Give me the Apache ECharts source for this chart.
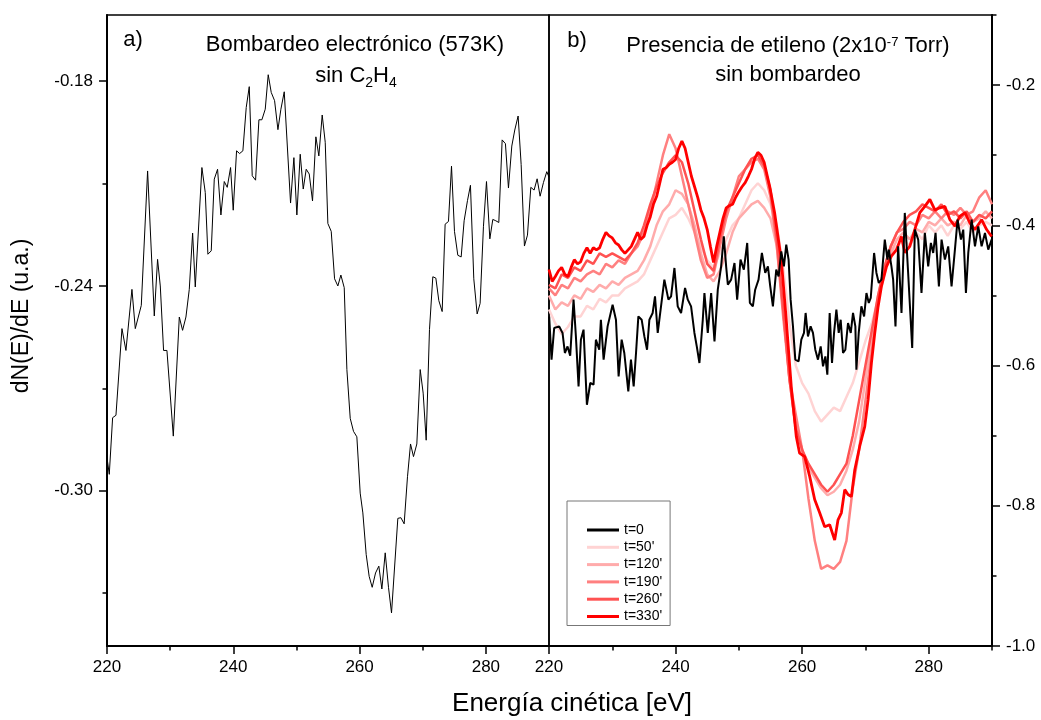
<!DOCTYPE html>
<html><head><meta charset="utf-8">
<script src="https://cdn.jsdelivr.net/npm/echarts@6/dist/echarts.min.js"></script>
<style>html,body{margin:0;padding:0;background:#fff}#c{width:1041px;height:720px}</style>
</head><body><div id="c"></div>
<script>
const F = '"Liberation Sans", Arial, sans-serif';
// tick values
const xMajor = [220, 240, 260, 280];
const xMinor = [230, 250, 270, 290];
const yLeftMajor = [-0.30, -0.24, -0.18];
const yLeftMinor = [-0.33, -0.27, -0.21];
const yRightMajor = [-1.0, -0.8, -0.6, -0.4, -0.2];
const yRightMinor = [-0.9, -0.7, -0.5, -0.3, -0.1];
const seriesNames = ["t=0", "t=50'", "t=120'", "t=190'", "t=260'", "t=330'"];

// panel a) spectrum [E, dN/dE]
const spectrumA = [[220.0,-0.2903],[220.36,-0.2952],[220.89,-0.2786],[221.42,-0.2779],[222.37,-0.2525],[223.0,-0.2589],[223.95,-0.241],[224.48,-0.2525],[225.43,-0.2457],[226.43,-0.2063],[227.49,-0.2488],[228.01,-0.2322],[228.44,-0.24],[228.96,-0.2589],[229.49,-0.2589],[230.5,-0.284],[231.45,-0.2491],[231.97,-0.253],[232.5,-0.2491],[233.03,-0.241],[233.56,-0.2245],[233.98,-0.2403],[235.03,-0.2053],[235.56,-0.2126],[235.98,-0.2307],[236.51,-0.2297],[236.99,-0.2087],[237.51,-0.2058],[238.04,-0.2192],[238.57,-0.2094],[239.04,-0.2111],[239.57,-0.2053],[239.99,-0.2178],[240.52,-0.2004],[241.0,-0.2012],[241.52,-0.2004],[242.05,-0.1877],[242.53,-0.1816],[243.0,-0.2077],[243.53,-0.209],[244.06,-0.1913],[244.53,-0.1913],[245.06,-0.1882],[245.53,-0.1781],[246.01,-0.1833],[246.54,-0.1857],[247.07,-0.1942],[247.54,-0.1882],[248.07,-0.1831],[249.07,-0.2157],[249.6,-0.2024],[250.07,-0.2192],[250.6,-0.2014],[251.08,-0.2116],[251.55,-0.2058],[252.03,-0.2072],[252.55,-0.2151],[253.08,-0.1963],[253.55,-0.2019],[254.08,-0.1899],[254.56,-0.1979],[254.98,-0.2217],[255.51,-0.224],[256.04,-0.2379],[256.56,-0.24],[257.04,-0.2368],[257.57,-0.2405],[257.99,-0.2645],[258.52,-0.2788],[259.04,-0.2826],[259.57,-0.2842],[260.1,-0.3007],[260.52,-0.3065],[261.05,-0.3187],[261.52,-0.3251],[262.0,-0.3283],[262.53,-0.3241],[263.05,-0.3221],[263.53,-0.3288],[264.06,-0.3182],[264.58,-0.3283],[265.06,-0.3358],[266.06,-0.3081],[266.54,-0.3079],[267.06,-0.3097],[267.59,-0.2959],[268.07,-0.2863],[268.54,-0.29],[269.07,-0.2863],[269.6,-0.2645],[270.07,-0.2714],[270.55,-0.2852],[271.07,-0.2528],[271.6,-0.2373],[272.08,-0.2377],[272.55,-0.2443],[273.08,-0.2475],[273.55,-0.2219],[274.08,-0.2211],[274.56,-0.2049],[275.03,-0.224],[275.56,-0.231],[276.09,-0.2315],[276.56,-0.2209],[277.09,-0.215],[277.56,-0.2105],[278.09,-0.2379],[278.62,-0.2482],[279.09,-0.2451],[279.62,-0.2225],[280.1,-0.2094],[280.63,-0.2262],[281.1,-0.2205],[281.58,-0.2209],[282.05,-0.2214],[282.58,-0.1972],[283.1,-0.1983],[283.58,-0.2113],[284.11,-0.199],[284.58,-0.1943],[285.11,-0.1902],[285.59,-0.2044],[286.11,-0.2283],[286.59,-0.2251],[287.12,-0.2111],[287.64,-0.2119],[288.12,-0.2086],[288.59,-0.2137],[289.12,-0.2097],[289.65,-0.2065],[290.0,-0.2081]];

// panel b) t=0 spectrum [E, dN/dE]
const t0 = [[220.03,-0.530],[220.4,-0.5916],[220.82,-0.5464],[221.61,-0.5441],[222.14,-0.5535],[222.51,-0.5821],[222.93,-0.5727],[223.35,-0.5859],[223.88,-0.506],[224.25,-0.5584],[224.67,-0.6297],[225.04,-0.5631],[225.46,-0.5488],[225.99,-0.6559],[226.52,-0.6249],[227.04,-0.6273],[227.41,-0.5631],[227.94,-0.5774],[228.2,-0.5346],[228.63,-0.5916],[229.26,-0.5441],[230.05,-0.5132],[230.58,-0.5346],[231.0,-0.6155],[231.48,-0.5631],[231.9,-0.5821],[232.53,-0.6369],[232.95,-0.5916],[233.38,-0.6297],[233.75,-0.5821],[234.12,-0.5299],[234.64,-0.5346],[235.07,-0.5584],[235.49,-0.5774],[235.86,-0.5346],[236.38,-0.525],[236.75,-0.5013],[237.18,-0.5535],[237.7,-0.5156],[238.23,-0.4775],[238.87,-0.506],[239.29,-0.5013],[239.82,-0.4608],[240.34,-0.5156],[240.87,-0.525],[241.5,-0.4893],[241.93,-0.506],[242.45,-0.5156],[242.98,-0.5535],[243.35,-0.5727],[243.77,-0.5964],[244.3,-0.5346],[244.56,-0.4965],[245.09,-0.5535],[245.62,-0.4965],[246.15,-0.5655],[246.67,-0.4918],[247.2,-0.4585],[247.62,-0.4157],[247.99,-0.4585],[248.26,-0.4846],[248.78,-0.4775],[249.31,-0.4537],[249.73,-0.506],[250.26,-0.4489],[250.79,-0.4632],[251.32,-0.4251],[251.74,-0.5107],[252.21,-0.5156],[252.58,-0.4918],[253.11,-0.4775],[253.64,-0.4394],[254.17,-0.4679],[254.59,-0.4585],[254.96,-0.487],[255.38,-0.5156],[255.91,-0.4632],[256.28,-0.4728],[256.7,-0.4371],[257.12,-0.4585],[257.49,-0.4275],[257.86,-0.4489],[258.18,-0.506],[258.55,-0.5441],[258.92,-0.5916],[259.44,-0.5941],[259.87,-0.5631],[260.29,-0.5535],[260.55,-0.525],[260.92,-0.5584],[261.34,-0.5441],[261.71,-0.5535],[262.08,-0.5774],[262.5,-0.5916],[262.93,-0.5727],[263.3,-0.6012],[263.67,-0.5869],[263.98,-0.613],[264.35,-0.525],[264.72,-0.5964],[265.04,-0.5535],[265.41,-0.5203],[265.78,-0.5535],[266.09,-0.5346],[266.46,-0.5821],[266.83,-0.5774],[267.25,-0.5393],[267.68,-0.5535],[268.04,-0.525],[268.41,-0.5441],[268.57,-0.6059],[268.94,-0.5535],[269.36,-0.5156],[269.79,-0.5299],[270.16,-0.4965],[270.53,-0.5107],[270.84,-0.5036],[271.37,-0.4394],[271.74,-0.4679],[272.11,-0.4822],[272.53,-0.4775],[273.06,-0.4204],[273.48,-0.4489],[273.69,-0.4347],[274.11,-0.4585],[274.38,-0.4775],[274.75,-0.5441],[275.17,-0.43],[275.7,-0.525],[276.22,-0.3823],[276.75,-0.4679],[277.39,-0.575],[277.81,-0.4061],[278.34,-0.4204],[278.86,-0.4965],[279.39,-0.4108],[279.92,-0.4585],[280.34,-0.4251],[280.71,-0.4394],[281.08,-0.4108],[281.61,-0.487],[282.03,-0.4204],[282.56,-0.4489],[283.08,-0.43],[283.61,-0.487],[284.14,-0.4347],[284.56,-0.3919],[285.09,-0.4204],[285.46,-0.4061],[285.88,-0.4965],[286.25,-0.4394],[286.78,-0.3919],[287.31,-0.43],[287.83,-0.4014],[288.36,-0.43],[288.89,-0.4108],[289.41,-0.4347],[289.94,-0.4204]];

// energies shared by t=50'..t=260' (1 eV steps)
const redE = [220,221,222,223,224,225,226,227,228,229,230,231,232,233,234,235,236,237,238,239,240,241,242,243,244,245,246,247,248,249,250,251,252,253,254,255,256,257,258,259,260,261,262,263,264,265,266,267,268,269,270,271,272,273,274,275,276,277,278,279,280,281,282,283,284,285,286,287,288,289,290];
const t50 = [-0.52,-0.54,-0.555,-0.545,-0.53,-0.53,-0.515,-0.52,-0.505,-0.51,-0.50,-0.50,-0.49,-0.485,-0.48,-0.47,-0.45,-0.43,-0.41,-0.39,-0.385,-0.375,-0.39,-0.41,-0.43,-0.45,-0.46,-0.44,-0.42,-0.40,-0.39,-0.37,-0.35,-0.34,-0.35,-0.37,-0.40,-0.46,-0.54,-0.60,-0.625,-0.64,-0.665,-0.68,-0.67,-0.66,-0.665,-0.645,-0.625,-0.595,-0.565,-0.54,-0.505,-0.47,-0.44,-0.43,-0.42,-0.43,-0.41,-0.42,-0.40,-0.41,-0.40,-0.415,-0.40,-0.405,-0.395,-0.41,-0.40,-0.395,-0.40];
const t120 = [-0.50,-0.52,-0.51,-0.515,-0.50,-0.505,-0.49,-0.495,-0.485,-0.49,-0.48,-0.485,-0.475,-0.47,-0.465,-0.45,-0.43,-0.40,-0.38,-0.37,-0.35,-0.355,-0.37,-0.40,-0.44,-0.47,-0.48,-0.465,-0.44,-0.41,-0.39,-0.38,-0.37,-0.365,-0.375,-0.39,-0.43,-0.52,-0.62,-0.69,-0.72,-0.745,-0.76,-0.775,-0.785,-0.78,-0.77,-0.75,-0.72,-0.68,-0.62,-0.56,-0.50,-0.46,-0.44,-0.42,-0.41,-0.42,-0.405,-0.41,-0.395,-0.40,-0.39,-0.40,-0.395,-0.40,-0.385,-0.395,-0.39,-0.38,-0.39];
const t190 = [-0.49,-0.50,-0.485,-0.49,-0.475,-0.48,-0.47,-0.465,-0.47,-0.455,-0.46,-0.45,-0.455,-0.44,-0.43,-0.41,-0.38,-0.34,-0.30,-0.27,-0.29,-0.33,-0.37,-0.41,-0.45,-0.475,-0.47,-0.43,-0.39,-0.36,-0.33,-0.32,-0.31,-0.305,-0.32,-0.36,-0.43,-0.53,-0.62,-0.67,-0.72,-0.79,-0.85,-0.89,-0.885,-0.89,-0.88,-0.85,-0.775,-0.72,-0.65,-0.58,-0.51,-0.46,-0.43,-0.41,-0.405,-0.395,-0.40,-0.385,-0.39,-0.38,-0.39,-0.38,-0.385,-0.375,-0.385,-0.38,-0.36,-0.35,-0.37];
const t260 = [-0.485,-0.49,-0.47,-0.475,-0.46,-0.465,-0.45,-0.455,-0.44,-0.445,-0.44,-0.445,-0.45,-0.44,-0.425,-0.40,-0.37,-0.345,-0.325,-0.31,-0.30,-0.31,-0.34,-0.38,-0.42,-0.455,-0.465,-0.42,-0.38,-0.36,-0.34,-0.32,-0.305,-0.30,-0.315,-0.35,-0.42,-0.52,-0.62,-0.69,-0.72,-0.74,-0.755,-0.77,-0.78,-0.77,-0.755,-0.74,-0.70,-0.65,-0.60,-0.55,-0.50,-0.46,-0.43,-0.41,-0.395,-0.385,-0.38,-0.37,-0.375,-0.38,-0.37,-0.385,-0.38,-0.39,-0.38,-0.395,-0.385,-0.39,-0.38];
// t=330' [E, dN/dE]
const t330 = [[220,-0.463],[220.5,-0.48],[221,-0.473],[221.5,-0.465],[222,-0.46],[222.5,-0.47],[223,-0.473],[223.5,-0.46],[224,-0.449],[224.5,-0.455],[225,-0.452],[225.5,-0.44],[226,-0.432],[226.5,-0.44],[227,-0.432],[227.5,-0.435],[228,-0.432],[228.5,-0.42],[229,-0.41],[229.5,-0.415],[230,-0.418],[230.5,-0.425],[231,-0.428],[231.5,-0.435],[232,-0.44],[232.5,-0.435],[233,-0.43],[233.5,-0.42],[234,-0.41],[234.5,-0.42],[235,-0.416],[235.5,-0.40],[236,-0.388],[236.5,-0.37],[237,-0.359],[237.5,-0.34],[238,-0.32],[238.5,-0.318],[239,-0.313],[239.5,-0.31],[240,-0.306],[240.5,-0.29],[241,-0.28],[241.5,-0.29],[242,-0.31],[242.5,-0.33],[243,-0.345],[243.5,-0.36],[244,-0.378],[244.5,-0.39],[245,-0.406],[245.5,-0.43],[246,-0.453],[246.5,-0.43],[247,-0.41],[247.5,-0.39],[248,-0.375],[248.5,-0.372],[249,-0.37],[249.5,-0.36],[250,-0.352],[250.5,-0.345],[251,-0.339],[251.5,-0.33],[252,-0.32],[252.5,-0.305],[253,-0.296],[253.5,-0.30],[254,-0.31],[254.5,-0.33],[254.86,-0.344],[255.65,-0.382],[256.7,-0.449],[257.49,-0.535],[258.28,-0.63],[259.07,-0.701],[259.6,-0.725],[260.4,-0.73],[261.19,-0.758],[261.98,-0.791],[262.77,-0.81],[263.56,-0.83],[264.35,-0.827],[265.14,-0.849],[265.67,-0.82],[266.2,-0.81],[266.73,-0.777],[267.25,-0.784],[267.78,-0.787],[268.31,-0.749],[269.1,-0.715],[269.89,-0.687],[270.42,-0.649],[270.95,-0.596],[271.47,-0.554],[272.0,-0.516],[272.53,-0.487],[273.32,-0.459],[274.1,-0.444],[274.9,-0.435],[275.69,-0.416],[276.22,-0.439],[277.01,-0.43],[277.8,-0.406],[278.6,-0.382],[279.39,-0.373],[280.18,-0.363],[280.97,-0.378],[281.77,-0.375],[282.56,-0.373],[283.35,-0.392],[284.14,-0.401],[284.94,-0.387],[285.73,-0.382],[286.52,-0.397],[287.31,-0.406],[288.36,-0.392],[289.15,-0.406],[289.94,-0.416]];

const zipE = vals => redE.map((e, i) => [e, vals[i]]);
const colors = ['#000000', '#FFD3D3', '#FFABAB', '#FF8080', '#FF5252', '#FF0000'];

function xAx(grid, major) {
  return {
    type: 'value', gridIndex: grid, min: 220, max: 290, position: 'bottom',
    axisLine: { show: major, onZero: false, lineStyle: { color: '#000', width: 2 } },
    axisTick: { show: true, inside: false, length: major ? 8 : 4.5, customValues: major ? xMajor : xMinor, lineStyle: { color: '#000', width: 1.5 } },
    axisLabel: { show: major, customValues: xMajor, color: '#000', fontSize: 17, fontFamily: F, margin: 13 },
    splitLine: { show: false }
  };
}
function yAx(grid, pos, major, min, max, majorVals, minorVals, dec) {
  return {
    type: 'value', gridIndex: grid, min: min, max: max, position: pos,
    axisLine: { show: major, onZero: false, lineStyle: { color: '#000', width: 2 } },
    axisTick: { show: true, inside: false, length: major ? 8 : 4.5, customValues: major ? majorVals : minorVals, lineStyle: { color: '#000', width: 1.5 } },
    axisLabel: { show: major, customValues: majorVals, color: '#000', fontSize: 17, fontFamily: F, margin: 14, formatter: v => v.toFixed(dec) },
    splitLine: { show: false }
  };
}

const rightSeries = [t0, zipE(t50), zipE(t120), zipE(t190), zipE(t260), t330].map((d, i) => ({
  name: seriesNames[i], type: 'line', xAxisIndex: 2, yAxisIndex: 2, data: d,
  symbol: 'none', showSymbol: false, z: i === 0 ? 4 : 3,
  lineStyle: { color: colors[i], width: i === 0 ? 2 : (i === 5 ? 2.8 : 2.5) },
  itemStyle: { color: colors[i] }
}));

const option = {
  animation: false,
  backgroundColor: '#fff',
  grid: [
    { left: 107, top: 15, width: 442, height: 631, show: true, borderColor: '#000', borderWidth: 1.5 },
    { left: 549, top: 15, width: 443, height: 631, show: true, borderColor: '#000', borderWidth: 1.5 }
  ],
  xAxis: [xAx(0, true), xAx(0, false), xAx(1, true), xAx(1, false)],
  yAxis: [
    yAx(0, 'left', true, -0.3455, -0.1606, yLeftMajor, yLeftMinor, 2),
    yAx(0, 'left', false, -0.3455, -0.1606, yLeftMajor, yLeftMinor, 2),
    yAx(1, 'right', true, -1.0, -0.1, yRightMajor, yRightMinor, 1),
    yAx(1, 'right', false, -1.0, -0.1, yRightMajor, yRightMinor, 1)
  ],
  legend: {
    data: seriesNames, orient: 'vertical', left: 567, top: 501,
    icon: 'path://M0,0 L32,0 L32,3 L0,3 Z',
    padding: [22, 8, 2, 20], itemWidth: 32, itemHeight: 12, itemGap: 3.3,
    borderColor: '#777', borderWidth: 1, backgroundColor: '#fff',
    textStyle: { color: '#000', fontSize: 14, fontFamily: F },
    selectedMode: false
  },
  graphic: [
    { type: 'text', x: 133, y: 40, style: { text: 'a)', fontSize: 22, fontFamily: F, fill: '#000', align: 'center', verticalAlign: 'middle' } },
    { type: 'text', x: 355, y: 45, style: { text: 'Bombardeo electrónico (573K)', fontSize: 22, fontFamily: F, fill: '#000', align: 'center', verticalAlign: 'middle' } },
    { type: 'text', x: 356, y: 76, style: { text: '{m|sin C}{s|2}{m|H}{s|4}', fontSize: 22, fontFamily: F, fill: '#000', align: 'center', verticalAlign: 'middle',
      rich: { m: { fontSize: 22, fontFamily: F, lineHeight: 26, verticalAlign: 'middle' }, s: { fontSize: 14, fontFamily: F, lineHeight: 14, padding: [14, 0, 0, 0], verticalAlign: 'middle' } } } },
    { type: 'text', x: 577, y: 41, style: { text: 'b)', fontSize: 22, fontFamily: F, fill: '#000', align: 'center', verticalAlign: 'middle' } },
    { type: 'text', x: 788, y: 46, style: { text: '{m|Presencia de etileno (2x10}{p|-7}{m| Torr)}', fontSize: 22, fontFamily: F, fill: '#000', align: 'center', verticalAlign: 'middle',
      rich: { m: { fontSize: 22, fontFamily: F, lineHeight: 26, verticalAlign: 'middle' }, p: { fontSize: 13, fontFamily: F, lineHeight: 13, padding: [0, 0, 8, 0], verticalAlign: 'middle' } } } },
    { type: 'text', x: 788, y: 75, style: { text: 'sin bombardeo', fontSize: 22, fontFamily: F, fill: '#000', align: 'center', verticalAlign: 'middle' } },
    { type: 'text', x: 22, y: 316, rotation: Math.PI / 2, style: { text: 'dN(E)/dE (u.a.)', fontSize: 23, fontFamily: F, fill: '#000', align: 'center', verticalAlign: 'middle' } },
    { type: 'text', x: 572, y: 704, style: { text: 'Energía cinética [eV]', fontSize: 26, fontFamily: F, fill: '#000', align: 'center', verticalAlign: 'middle' } }
  ],
  series: [
    { name: 'a', type: 'line', xAxisIndex: 0, yAxisIndex: 0, data: spectrumA, symbol: 'none', lineStyle: { color: '#000', width: 1 }, z: 3 }
  ].concat(rightSeries)
};
const chart = echarts.init(document.getElementById('c'), null, { renderer: 'canvas' });
chart.setOption(option);
</script></body></html>
